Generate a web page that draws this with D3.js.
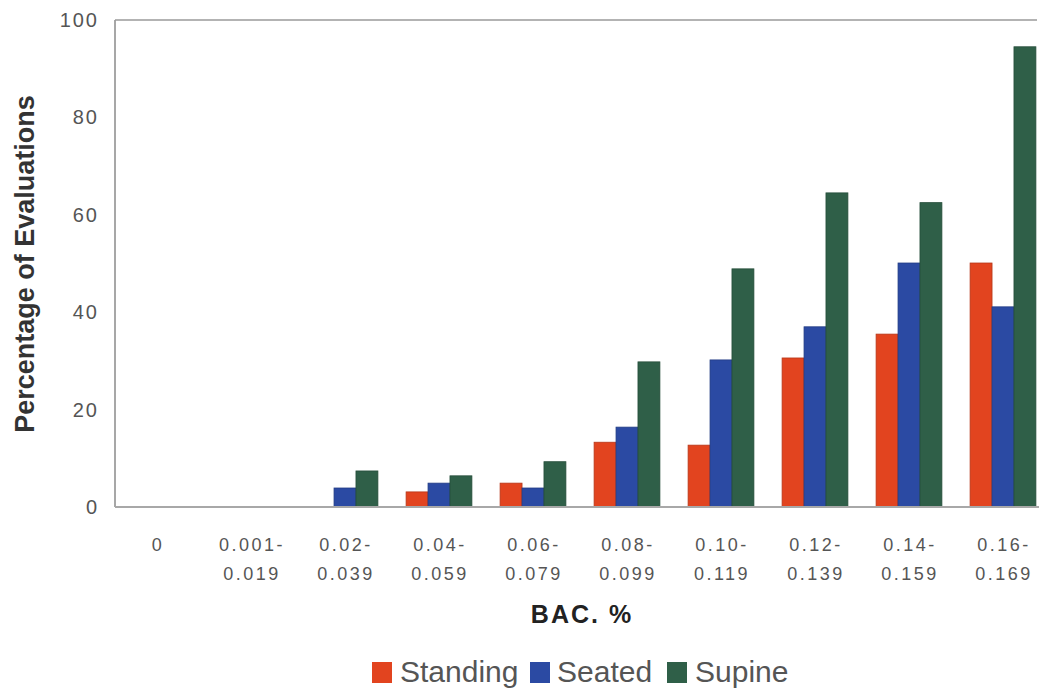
<!DOCTYPE html>
<html>
<head>
<meta charset="utf-8">
<script src="https://cdn.jsdelivr.net/npm/d3@7"></script>
<style>
  body { margin: 0; background: #fff; }
  svg { display: block; font-family: Arial, "Liberation Sans", sans-serif; }
</style>
</head>
<body>
<div id="chart"></div>
<script>
// BAC categories, two-line tick labels
var categories = ["0", "0.001-0.019", "0.02-0.039", "0.04-0.059", "0.06-0.079",
                  "0.08-0.099", "0.10-0.119", "0.12-0.139", "0.14-0.159", "0.16-0.169"];
var tickLine1 = ["0", "0.001-", "0.02-", "0.04-", "0.06-", "0.08-", "0.10-", "0.12-", "0.14-", "0.16-"];
var tickLine2 = ["", "0.019", "0.039", "0.059", "0.079", "0.099", "0.119", "0.139", "0.159", "0.169"];

var seriesNames = ["Standing", "Seated", "Supine"];
var standing = [0, 0, 0, 3.1, 4.9, 13.3, 12.7, 30.6, 35.5, 50.1];
var seated   = [0, 0, 3.9, 4.9, 3.9, 16.4, 30.2, 37.0, 50.1, 41.1];
var supine   = [0, 0, 7.4, 6.4, 9.3, 29.8, 48.9, 64.5, 62.5, 94.5];
var yTicks = [0, 20, 40, 60, 80, 100];

var colors = ["#e2441f", "#2b4aa3", "#2f5f48"];

var width = 1039, height = 688;
var margin = {top: 20, right: 0, bottom: 181, left: 115};

var svg = d3.select("#chart").append("svg")
    .attr("width", width)
    .attr("height", height);

var x0 = d3.scaleBand()
    .domain(categories)
    .range([110, 1050])
    .paddingInner(0.3)
    .paddingOuter(0.15);

var x1 = d3.scaleBand()
    .domain(seriesNames)
    .range([0, x0.bandwidth()]);

var y = d3.scaleLinear()
    .domain([0, 100])
    .range([height - margin.bottom, margin.top]);

var rows = categories.map(function(c, i) {
    return {cat: c, values: [standing[i], seated[i], supine[i]]};
});

// frame
svg.append("line")
    .attr("x1", margin.left).attr("x2", margin.left)
    .attr("y1", y(100)).attr("y2", y(0))
    .attr("style", "stroke:#8a8a8a;stroke-width:1.5px;");
svg.append("line")
    .attr("x1", margin.left).attr("x2", 1037)
    .attr("y1", y(100)).attr("y2", y(100))
    .attr("style", "stroke:#9a9a9a;stroke-width:1.5px;");

// bars
svg.append("g").selectAll("g")
    .data(rows)
    .enter().append("g")
    .attr("transform", function(d) { return "translate(" + x0(d.cat) + ",0)"; })
    .selectAll("rect")
    .data(function(d) { return d.values.map(function(v, j) { return {name: seriesNames[j], value: v, j: j}; }); })
    .enter().append("rect")
    .attr("x", function(d) { return x1(d.name); })
    .attr("width", x1.bandwidth())
    .attr("y", function(d) { return y(d.value); })
    .attr("height", function(d) { return y(0) - y(d.value); })
    .attr("fill", function(d) { return colors[d.j]; })
    .attr("stroke", function(d) { return d3.color(colors[d.j]).darker(0.6); })
    .attr("stroke-width", 0.8);

// baseline
svg.append("line")
    .attr("x1", margin.left).attr("x2", width)
    .attr("y1", y(0)).attr("y2", y(0))
    .attr("style", "stroke:#a8a8a8;stroke-width:2px;");

// y axis labels
var yAxis = svg.append("g")
    .attr("transform", "translate(" + (margin.left - 16) + ",0)")
    .call(d3.axisLeft(y).tickValues(yTicks).tickSize(0).tickPadding(0));
yAxis.select(".domain").remove();
yAxis.selectAll("text")
    .attr("style", "font-family:Arial,'Liberation Sans',sans-serif;font-size:20px;fill:#555;letter-spacing:2px;");

// x tick labels (two lines)
var xt = svg.append("g").selectAll("text")
    .data(categories)
    .enter().append("text")
    .attr("x", function(d) { return x0(d) + x0.bandwidth() / 2; })
    .attr("text-anchor", "middle")
    .attr("style", "font-size:18px;fill:#555;letter-spacing:2.5px;");
xt.append("tspan")
    .attr("x", function(d) { return x0(d) + x0.bandwidth() / 2 + 1; })
    .attr("y", 551)
    .text(function(d, i) { return tickLine1[i]; });
xt.append("tspan")
    .attr("x", function(d) { return x0(d) + x0.bandwidth() / 2 + 1; })
    .attr("y", 580)
    .text(function(d, i) { return tickLine2[i]; });

// axis titles
svg.append("text")
    .attr("x", 582)
    .attr("y", 623)
    .attr("text-anchor", "middle")
    .attr("style", "font-size:25px;font-weight:bold;fill:#222;letter-spacing:2px;")
    .text("BAC. %");

svg.append("text")
    .attr("transform", "translate(34," + 264 + ") rotate(-90)")
    .attr("text-anchor", "middle")
    .attr("style", "font-size:27px;font-weight:bold;fill:#333;")
    .text("Percentage of Evaluations");

// legend
var legendX = [372, 530, 667];
var legend = svg.append("g").selectAll("g")
    .data(seriesNames)
    .enter().append("g")
    .attr("transform", function(d, i) { return "translate(" + legendX[i] + ",662)"; });
legend.append("rect")
    .attr("width", 20)
    .attr("height", 21)
    .attr("fill", function(d, i) { return colors[i]; });
legend.append("text")
    .attr("x", function(d, i) { return i === 1 ? 27 : (i === 0 ? 28 : 28); })
    .attr("y", 20)
    .attr("style", "font-size:30px;fill:#555;")
    .text(function(d) { return d; });
</script>
</body>
</html>
